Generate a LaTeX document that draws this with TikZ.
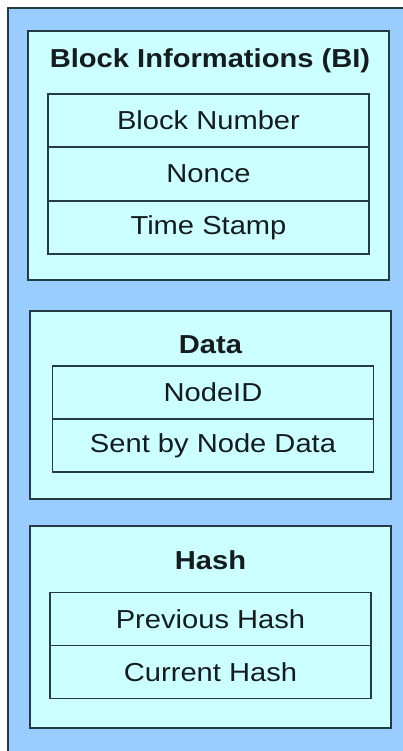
\documentclass[tikz,border=0pt]{standalone}
\usepackage{fontspec}
\setmainfont{Liberation Sans}
\usetikzlibrary{positioning}
\definecolor{outerblue}{HTML}{99CCFF}
\definecolor{innercyan}{HTML}{CCFFFF}
\definecolor{edgegray}{HTML}{263A44}
\definecolor{textdark}{HTML}{151C1E}
\tikzset{
  panel/.style={draw=edgegray, line width=1.4pt, fill=innercyan, minimum width=361pt, inner sep=0pt},
  cell/.style={draw=edgegray, line width=1.2pt, fill=innercyan, minimum width=321pt, minimum height=53pt, inner sep=0pt},
  celltext/.style={text=textdark, font=\fontsize{26}{31}\selectfont, xscale=1.12, inner sep=0pt},
  paneltitle/.style={text=textdark, font=\fontsize{26}{31}\selectfont\bfseries, xscale=1.12, inner sep=0pt}
}
\begin{document}
\begin{tikzpicture}[x=1pt, y=-1pt]
    \useasboundingbox (0,0) rectangle (403,751);
    \fill [white] (0,0) rectangle (403,751);
    \fill [outerblue] (8,8) rectangle (403,751);
    \draw [edgegray, line width=1.8pt] (8,751) -- (8,8) -- (403,8);
    % panels
    \node [panel, minimum height=249pt] (biBox) at (208.5,155.5) {};
    \node [panel, minimum height=188pt] (dataBox) at (210.5,405) {};
    \node [panel, minimum height=202pt] (hashBox) at (210.5,627) {};
    % block informations
    \node [paneltitle] (biTitle) at (210,61) {Block Informations (BI)};
    \node [cell] (blockNum) at (208.5,120.5) {};
    \node [cell] (nonce) at (208.5,174) {};
    \node [cell] (timeStamp) at (208.5,227.5) {};
    \node [celltext] (blockNumText) at (blockNum) {Block Number};
    \node [celltext] (nonceText) at (nonce) {Nonce};
    \node [celltext] (timeStampText) at (timeStamp) {Time Stamp};
    % data
    \node [paneltitle] (dataTitle) at (210.5,345) {Data};
    \node [cell] (nodeId) at (213,392.5) {};
    \node [cell] (sentData) at (213,445.5) {};
    \node [celltext] (nodeIdText) at (nodeId) {NodeID};
    \node [celltext] (sentDataText) at (sentData) {Sent by Node Data};
    % hash
    \node [paneltitle] (hashTitle) at (210.5,560) {Hash};
    \node [cell] (prevHash) at (210.5,619) {};
    \node [cell] (currHash) at (210.5,672) {};
    \node [celltext] (prevHashText) at (prevHash) {Previous Hash};
    \node [celltext] (currHashText) at (currHash) {Current Hash};
\end{tikzpicture}
\end{document}
